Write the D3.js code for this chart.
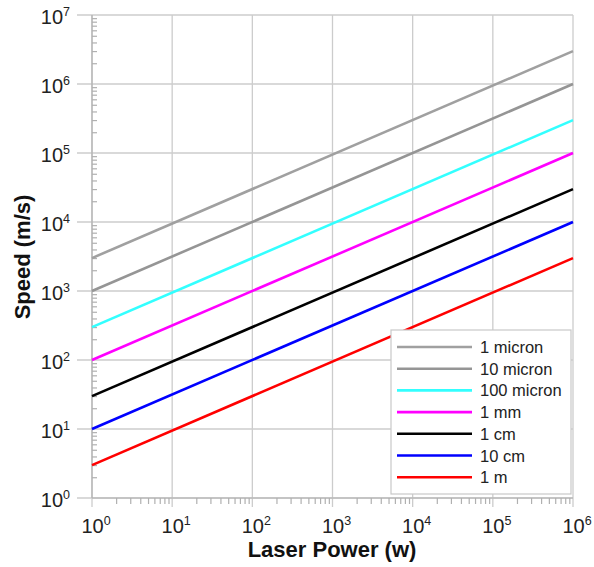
<!DOCTYPE html>
<html><head><meta charset="utf-8">
<script src="https://cdn.jsdelivr.net/npm/d3@7"></script>
<style>body{margin:0;background:#fff}svg{display:block}text{font-family:"Liberation Sans",Arial,sans-serif}</style>
</head><body>
<svg id="c" width="594" height="567"></svg>
<script>
const seriesNames = ["1 micron","10 micron","100 micron","1 mm","1 cm","10 cm","1 m"];
const seriesColors = ["#a0a0a0","#959595","#33ffff","#ff00ff","#000000","#0000ff","#ff0000"];
const power = [1, 1e6];
const speed1micron = [3000, 3000000];
const speed10micron = [1000, 1000000];
const speed100micron = [300, 300000];
const speed1mm = [100, 100000];
const speed1cm = [30, 30000];
const speed10cm = [10, 10000];
const speed1m = [3, 3000];
const seriesValues = [speed1micron, speed10micron, speed100micron, speed1mm, speed1cm, speed10cm, speed1m];
const xTickExps = [0,1,2,3,4,5,6];
const yTickExps = [0,1,2,3,4,5,6,7];
const xTitle = "Laser Power (w)";
const yTitle = "Speed (m/s)";

const svg = d3.select("#c");
const L=92, R=573, T=15, B=498;
const x = d3.scaleLog().domain([1,1e6]).range([L,R]);
const y = d3.scaleLog().domain([1,1e7]).range([B,T]);
const grid = "#cccccc", axisC = "#b0b0b0";

// minor ticks
const xMinor=[], yMinor=[];
xTickExps.slice(0,-1).forEach(e=>{for(let k=2;k<10;k++) xMinor.push(k*Math.pow(10,e));});
yTickExps.slice(0,-1).forEach(e=>{for(let k=2;k<10;k++) yMinor.push(k*Math.pow(10,e));});

// gridlines
svg.append("g").selectAll("line").data(xTickExps).join("line")
  .attr("x1",d=>x(Math.pow(10,d))).attr("x2",d=>x(Math.pow(10,d)))
  .attr("y1",T).attr("y2",B+9).attr("stroke",grid).attr("stroke-width",1.3);
svg.append("g").selectAll("line").data(yTickExps).join("line")
  .attr("y1",d=>y(Math.pow(10,d))).attr("y2",d=>y(Math.pow(10,d)))
  .attr("x1",L-15).attr("x2",R).attr("stroke",grid).attr("stroke-width",1.3);

// axes with minor ticks
const xa = svg.append("g").attr("transform",`translate(0,${B})`)
  .call(d3.axisBottom(x).tickValues(xMinor).tickSize(6).tickFormat(""));
const ya = svg.append("g").attr("transform",`translate(${L},0)`)
  .call(d3.axisRight(y).tickValues(yMinor).tickSize(5).tickFormat(""));
[xa,ya].forEach(a=>{a.selectAll("path,line").attr("stroke",axisC).attr("stroke-width",1.2);a.select(".domain").attr("stroke",axisC);});
xa.select(".domain").attr("d",`M${L},0H${R}`);
ya.select(".domain").attr("d",`M0,${B}V${T}`);

// tick labels
const xl = svg.append("g").selectAll("text").data(xTickExps).join("text")
  .attr("x",d=>x(Math.pow(10,d))+4).attr("y",533).attr("text-anchor","middle")
  .attr("font-size",20).attr("fill","#222");
xl.append("tspan").text("10");
xl.append("tspan").attr("dy",-8).attr("font-size",12.5).text(d=>d);
const yl = svg.append("g").selectAll("text").data(yTickExps).join("text")
  .attr("x",70).attr("y",d=>y(Math.pow(10,d))+9).attr("text-anchor","end")
  .attr("font-size",20).attr("fill","#222");
yl.append("tspan").text("10");
yl.append("tspan").attr("dy",-8).attr("font-size",12.5).text(d=>d);

// lines
const line = d3.line().x(d=>x(d[0])).y(d=>y(d[1]));
svg.append("g").selectAll("path").data(seriesValues).join("path")
  .attr("d",v=>line(power.map((p,i)=>[p,v[i]])))
  .attr("fill","none").attr("stroke",(v,i)=>seriesColors[i]).attr("stroke-width",2.6);

// legend
const lg = svg.append("g");
lg.append("rect").attr("x",391).attr("y",330).attr("width",180).attr("height",164)
  .attr("fill","#fff").attr("stroke","#c8c8c8").attr("stroke-width",1.2);
const rows = lg.selectAll("g").data(seriesNames).join("g")
  .attr("transform",(d,i)=>`translate(0,${347+i*21.7})`);
rows.append("line").attr("x1",397).attr("x2",472).attr("y1",0).attr("y2",0)
  .attr("stroke",(d,i)=>seriesColors[i]).attr("stroke-width",2.6);
rows.append("text").attr("x",480).attr("y",6).attr("font-size",16.5).attr("fill","#222").text(d=>d);

// titles
svg.append("text").attr("x",332).attr("y",557).attr("text-anchor","middle")
  .attr("font-size",22).attr("font-weight","bold").attr("fill","#111").text(xTitle);
svg.append("text").attr("transform","translate(30,257) rotate(-90)").attr("text-anchor","middle")
  .attr("font-size",22).attr("font-weight","bold").attr("fill","#111").text(yTitle);
</script>
</body></html>
